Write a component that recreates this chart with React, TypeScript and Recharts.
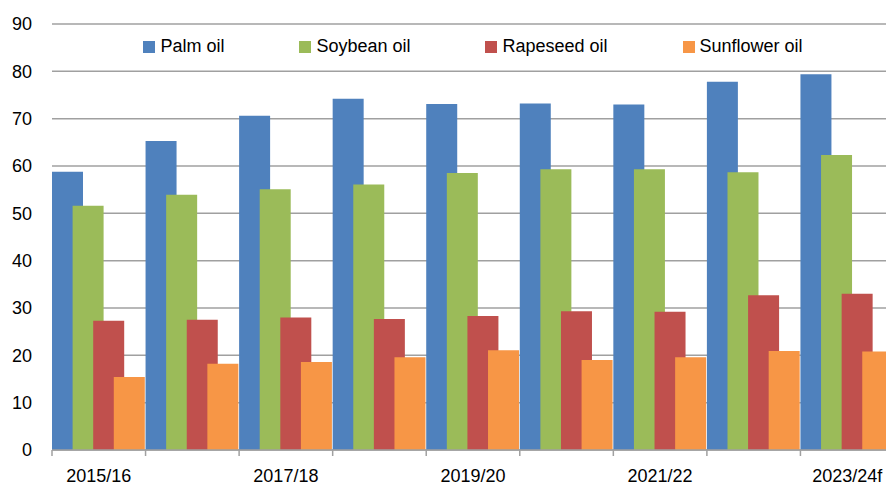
import { Bar, BarChart, CartesianGrid, Legend, XAxis, YAxis } from 'recharts'

const seasons = [
  '2015/16',
  '2016/17',
  '2017/18',
  '2018/19',
  '2019/20',
  '2020/21',
  '2021/22',
  '2022/23',
  '2023/24f',
]

const palmOil = [58.8, 65.3, 70.6, 74.2, 73.1, 73.2, 73.0, 77.8, 79.4]
const soybeanOil = [51.6, 53.9, 55.1, 56.1, 58.5, 59.3, 59.3, 58.7, 62.3]
const rapeseedOil = [27.3, 27.5, 28.0, 27.7, 28.3, 29.3, 29.2, 32.7, 33.0]
const sunflowerOil = [15.4, 18.2, 18.6, 19.6, 21.1, 19.0, 19.6, 20.9, 20.8]

const yTicks = [0, 10, 20, 30, 40, 50, 60, 70, 80, 90]

const COLORS = {
  palm: '#4f81bd',
  soybean: '#9bbb59',
  rapeseed: '#c0504d',
  sunflower: '#f79646',
}

const SERIES = [
  { key: 'palm', name: 'Palm oil', color: COLORS.palm },
  { key: 'soybean', name: 'Soybean oil', color: COLORS.soybean },
  { key: 'rapeseed', name: 'Rapeseed oil', color: COLORS.rapeseed },
  { key: 'sunflower', name: 'Sunflower oil', color: COLORS.sunflower },
]

const data = seasons.map((season, i) => ({
  season,
  palm: palmOil[i],
  soybean: soybeanOil[i],
  rapeseed: rapeseedOil[i],
  sunflower: sunflowerOil[i],
}))

const FONT = '"Liberation Sans", Arial, sans-serif'
const GRID = '#a0a0a0'

/** Excel-style legend: small squares, wide gaps between items */
function OilLegend() {
  return (
    <div
      style={{
        display: 'flex',
        justifyContent: 'center',
        fontFamily: FONT,
        fontSize: 18,
        color: '#000',
      }}
    >
      {SERIES.map((s, i) => (
        <div
          key={s.key}
          style={{
            display: 'flex',
            alignItems: 'center',
            marginRight: i < SERIES.length - 1 ? 75 : 0,
          }}
        >
          <span
            style={{
              width: 12,
              height: 12,
              background: s.color,
              display: 'inline-block',
              marginRight: 5,
            }}
          />
          <span>{s.name}</span>
        </div>
      ))}
    </div>
  )
}

/**
 * Tick mark sits on the left edge of each category (Excel style),
 * label only on every other season.
 */
function SeasonTick(props: {
  x?: number
  y?: number
  width?: number
  visibleTicksCount?: number
  index?: number
  payload?: { value: string }
}) {
  const { x = 0, y = 0, width = 0, visibleTicksCount = 1, index = 0, payload } = props
  const band = width / visibleTicksCount
  const edge = x - band / 2
  return (
    <g>
      <line x1={edge} x2={edge} y1={y} y2={y + 6} stroke={GRID} strokeWidth={1.5} />
      {index % 2 === 0 && (
        <text
          x={x}
          y={y + 19}
          dy="0.71em"
          textAnchor="middle"
          fill="#000"
          fontSize={18}
          fontFamily={FONT}
        >
          {payload?.value}
        </text>
      )}
    </g>
  )
}

export default function App() {
  return (
    <div
      style={{
        position: 'fixed',
        left: 0,
        top: 0,
        width: 886,
        height: 486,
        overflow: 'hidden',
        background: '#fff',
      }}
    >
      <BarChart
        width={900}
        height={500}
        data={data}
        margin={{ top: 24, right: 6, bottom: 0, left: 0 }}
        barCategoryGap={0}
        barGap={-10.4}
      >
        <CartesianGrid
          vertical={false}
          stroke={GRID}
          strokeWidth={1.5}
          strokeDasharray=""
        />
        <XAxis
          dataKey="season"
          interval={0}
          tickLine={false}
          tickSize={0}
          tickMargin={0}
          height={50}
          axisLine={{ stroke: GRID, strokeWidth: 1.5 }}
          tick={<SeasonTick />}
        />
        <YAxis
          domain={[0, 90]}
          ticks={yTicks}
          width={52}
          axisLine={false}
          tickLine={false}
          tickSize={0}
          tickMargin={20}
          tick={{ fill: '#000', fontSize: 18, fontFamily: FONT }}
        />
        <Legend
          layout="horizontal"
          verticalAlign="middle"
          align="center"
          content={<OilLegend />}
          wrapperStyle={{ top: 36, left: 52, width: 842 }}
        />
        {SERIES.map((s) => (
          <Bar
            key={s.key}
            dataKey={s.key}
            name={s.name}
            fill={s.color}
            barSize={31}
            isAnimationActive={false}
          />
        ))}
      </BarChart>
    </div>
  )
}
